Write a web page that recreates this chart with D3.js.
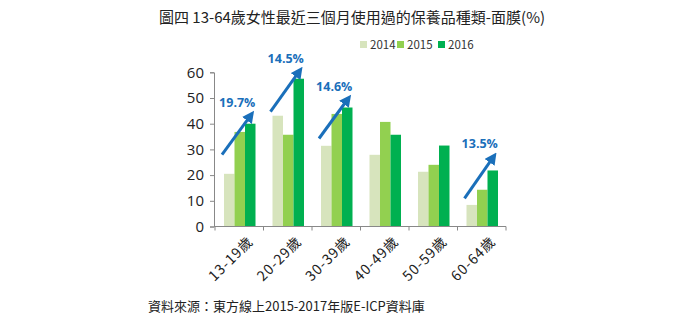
<!DOCTYPE html>
<html lang="zh-Hant">
<head>
<meta charset="UTF-8">
<title>面膜</title>
<style>
  body { margin: 0; background: #fff; }
  text { font-family: "Noto Sans CJK TC", "Open Sans", sans-serif; }
</style>
</head>
<body>
<script src="https://d3js.org/d3.v7.min.js"></script>
<script>
// data
var categories = ["13-19歲", "20-29歲", "30-39歲", "40-49歲", "50-59歲", "60-64歲"];
var years = ["2014", "2015", "2016"];
var v2014 = [20.5, 43.1, 31.4, 27.9, 21.3, 8.4];
var v2015 = [36.8, 35.7, 43.8, 40.7, 24.0, 14.3];
var v2016 = [40.0, 57.5, 46.3, 35.7, 31.5, 21.8];
var yTicks = [0, 10, 20, 30, 40, 50, 60];
// growth labels: category index + text
var growthCats = [0, 1, 2, 5];
var growthText = ["19.7%", "14.5%", "14.6%", "13.5%"];

var colors = ["#d7e4bd", "#92d050", "#00b050"];
var series = [v2014, v2015, v2016];

var W = 700, H = 321;
var svg = d3.select("body").append("svg").attr("width", W).attr("height", H);

var x0 = d3.scaleBand().domain(categories).range([215, 506]).paddingInner(0).paddingOuter(0);
var x1 = d3.scaleBand().domain(years).range([9, x0.bandwidth() - 8]);
var y = d3.scaleLinear().domain([0, 60]).range([226.5, 72.3]);

// title
svg.append("text").attr("x", 352).attr("y", 23).attr("text-anchor", "middle")
  .attr("font-size", 15).attr("fill", "#222").text("圖四 13-64歲女性最近三個月使用過的保養品種類-面膜(%)");

// legend
var leg = svg.append("g");
var legX = [360, 397, 438];
years.forEach(function(yr, i) {
  leg.append("rect").attr("x", legX[i]).attr("y", 41).attr("width", 7).attr("height", 7).attr("fill", colors[i]);
  leg.append("text").attr("x", legX[i] + 10).attr("y", 48.5).attr("font-size", 11.5).attr("fill", "#333").text(yr);
});

// bars
var g = svg.append("g");
categories.forEach(function(c, ci) {
  years.forEach(function(yr, si) {
    var v = series[si][ci];
    g.append("rect")
      .attr("x", x0(c) + x1(yr))
      .attr("y", y(v))
      .attr("width", x1.bandwidth())
      .attr("height", y(0) - y(v))
      .attr("fill", colors[si]);
  });
});

// y axis
var yAxis = svg.append("g").attr("transform", "translate(214,0)")
  .call(d3.axisLeft(y).tickValues(yTicks).tickSize(4).tickPadding(6));
yAxis.selectAll("text").attr("font-size", 15).attr("fill", "#222")
  .style("font-family", "'Open Sans', sans-serif");
yAxis.selectAll("line, path").attr("stroke", "#888");

// x axis
var xAxisG = svg.append("g").attr("transform", "translate(0," + y(0) + ")");
xAxisG.append("line").attr("x1", 214).attr("x2", 506).attr("stroke", "#888");
var bounds = categories.map(function(c) { return x0(c); }).concat([x0.range()[1]]);
xAxisG.selectAll(".tk").data(bounds).enter().append("line")
  .attr("x1", function(d) { return d; }).attr("x2", function(d) { return d; })
  .attr("y1", 0).attr("y2", 4).attr("stroke", "#888");
xAxisG.selectAll(".lbl").data(categories).enter().append("text")
  .attr("transform", function(d) { return "translate(" + (x0(d) + x0.bandwidth() / 2 + 8) + ",9) rotate(-45)"; })
  .attr("text-anchor", "end").attr("dy", "0.7em").attr("letter-spacing", 1)
  .attr("font-size", 14).attr("fill", "#222").text(function(d) { return d; });

// growth arrows
var defs = svg.append("defs");
defs.append("marker").attr("id", "ah").attr("viewBox", "0 0 10 10").attr("refX", 6).attr("refY", 5)
  .attr("markerWidth", 4).attr("markerHeight", 4).attr("orient", "auto")
  .append("path").attr("d", "M0,0 L10,5 L0,10 z").attr("fill", "#1a6fba");

growthCats.forEach(function(ci, k) {
  var c = categories[ci];
  var xs = x0(c) + x1("2014") - 2;
  var xe = x0(c) + x1("2016") + x1.bandwidth() / 2 + 1;
  var top = y(series[2][ci]);
  var ys = top + 31;
  var ye = top - 9;
  if (ci === 1) { ys = top + 33; ye = top - 8; }
  if (ci === 5) { ys = top + 28; ye = top - 14; }
  svg.append("line").attr("x1", xs).attr("y1", ys).attr("x2", xe).attr("y2", ye)
    .attr("stroke", "#1a6fba").attr("stroke-width", 3).attr("marker-end", "url(#ah)");
  svg.append("text").attr("x", x0(c) + x0.bandwidth() / 2 - 2).attr("y", ye - 8)
    .attr("text-anchor", "middle").attr("font-size", 12.5).attr("font-weight", "bold")
    .attr("fill", "#1a6fba").style("font-family", "'Open Sans', sans-serif").text(growthText[k]);
});

// source
svg.append("text").attr("x", 148).attr("y", 311).attr("font-size", 13).attr("fill", "#222")
  .text("資料來源：東方線上2015-2017年版E-ICP資料庫");
</script>
</body>
</html>
